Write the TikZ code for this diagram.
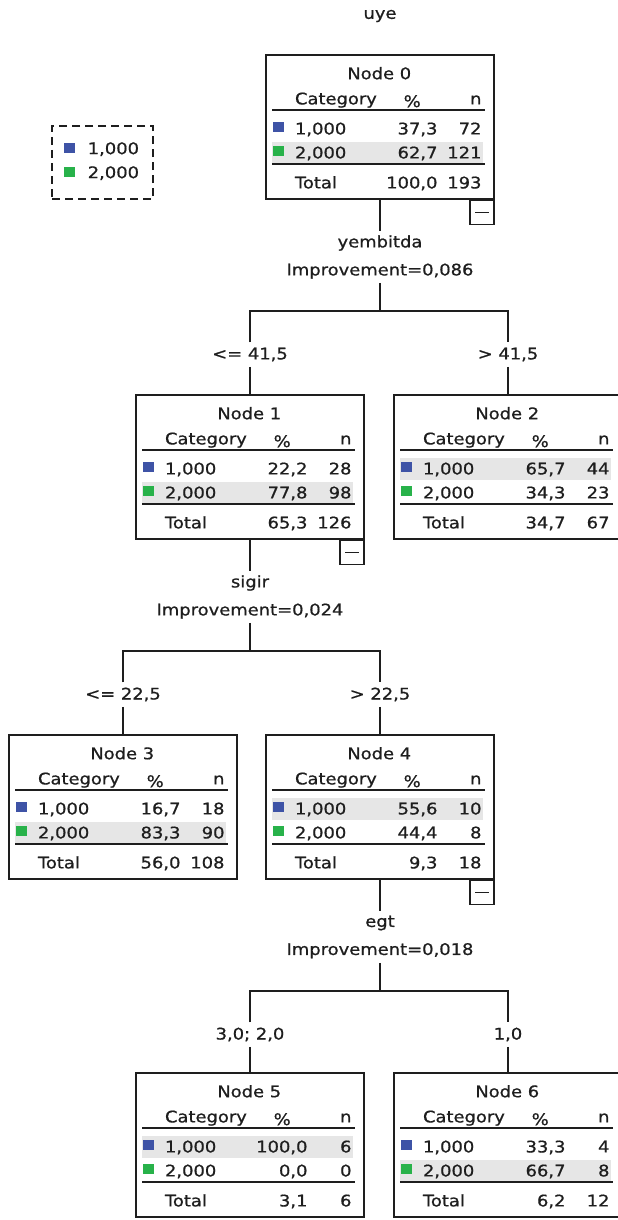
\documentclass[tikz,border=0pt]{standalone}
\usepackage{fontspec}
\newfontfamily\spssfont[FakeStretch=1.12,FakeBold=0.8]{DejaVu Sans}
\usetikzlibrary{positioning}

\definecolor{catblue}{RGB}{62,83,166}
\definecolor{catgreen}{RGB}{40,178,74}
\definecolor{rowgray}{RGB}{230,230,230}
\definecolor{inkgray}{RGB}{30,30,30}

% table inside a tree node: name, title, row 1 (%, n), row 2 (%, n), total (%, n), shaded row
\newcommand{\cattable}[9]{%
\fill[rowgray] (7,{40+24*#9}) rectangle (218,{62+24*#9});
\node[cell] (#1-title) at (114,19) {#2};
\node[cell,anchor=mid west] (#1-cat) at (29,48) {Category};
\node[cell] (#1-pct) at (147,47) {\%};
\node[cell,anchor=mid east] (#1-n) at (217,48) {n};
\draw[rule] (7,56) -- (220,56);
\fill[catblue] (8,68) rectangle (19,78);
\node[cell,anchor=mid west] (#1-a) at (29,78) {1,000};
\node[cell,anchor=mid east] (#1-ap) at (173,78) {#3};
\node[cell,anchor=mid east] (#1-an) at (217,78) {#4};
\fill[catgreen] (8,92) rectangle (19,102);
\node[cell,anchor=mid west] (#1-b) at (29,102) {2,000};
\node[cell,anchor=mid east] (#1-bp) at (173,102) {#5};
\node[cell,anchor=mid east] (#1-bn) at (217,102) {#6};
\draw[rule] (7,110) -- (220,110);
\node[cell,anchor=mid west] (#1-t) at (29,132) {Total};
\node[cell,anchor=mid east] (#1-tp) at (173,132) {#7};
\node[cell,anchor=mid east] (#1-tn) at (217,132) {#8};
}

\begin{document}
\begin{tikzpicture}[x=1pt,y=-1pt,line width=1.5pt,draw=inkgray,text=inkgray,
  font=\spssfont\fontsize{16}{28}\selectfont,
  cell/.style={inner sep=0pt},
  rule/.style={line width=1.8pt},
  treebox/.style={draw,minimum width=228,minimum height=144,inner sep=0pt},
  togglebox/.style={draw,fill=white,minimum width=24,minimum height=24,inner sep=0pt},
  split/.style={align=center,minimum height=50,inner sep=0pt},
  branch/.style={minimum height=23,inner sep=0pt},
  wire/.style={line width=1.5pt}]
\clip (0,0) rectangle (618,1220);

% Title and legend
\node[cell] (root) at (380,16) {uye};
\node[draw,dashed,dash pattern=on 8pt off 5pt,minimum width=101,minimum height=73,inner sep=0pt] (legend) at (102.5,162.5) {};
\fill[catblue] (64,143) rectangle (75,153);
\node[cell,anchor=mid west] (leg1) at (87,152) {1,000};
\fill[catgreen] (64,167) rectangle (75,177);
\node[cell,anchor=mid west] (leg2) at (87,176) {2,000};

% Node 0
\node[treebox] (n0) at (380,127) {};
\begin{scope}[shift={(n0.north west)}]
\cattable{n0}{Node 0}{37,3}{72}{62,7}{121}{100,0}{193}{2}
\end{scope}
\node[togglebox,anchor=north east] (t0) at (n0.south east) {};
\draw ([xshift=-7pt]t0.center) -- ([xshift=7pt]t0.center);
\node[split] (s0) at (380,257) {yembitda\\Improvement=0,086};
\coordinate (h0) at (380,311);
\node[branch] (b1) at (250,354.5) {<= 41,5};
\node[branch] (b2) at (508,354.5) {> 41,5};
\draw[wire] (n0.south) -- (s0.north);
\draw[wire] (s0.south) -- (h0);
\draw[wire] (b1.north) |- (h0) -| (b2.north);

% Node 1
\node[treebox] (n1) at (250,467) {};
\begin{scope}[shift={(n1.north west)}]
\cattable{n1}{Node 1}{22,2}{28}{77,8}{98}{65,3}{126}{2}
\end{scope}
\node[togglebox,anchor=north east] (t1) at (n1.south east) {};
\draw ([xshift=-7pt]t1.center) -- ([xshift=7pt]t1.center);
\draw[wire] (b1.south) -- (n1.north);

% Node 2
\node[treebox] (n2) at (508,467) {};
\begin{scope}[shift={(n2.north west)}]
\cattable{n2}{Node 2}{65,7}{44}{34,3}{23}{34,7}{67}{1}
\end{scope}
\draw[wire] (b2.south) -- (n2.north);

% split of Node 1
\node[split] (s1) at (250,597) {sigir\\Improvement=0,024};
\coordinate (h1) at (250,651);
\node[branch] (b3) at (123,694.5) {<= 22,5};
\node[branch] (b4) at (380,694.5) {> 22,5};
\draw[wire] (n1.south) -- (s1.north);
\draw[wire] (s1.south) -- (h1);
\draw[wire] (b3.north) |- (h1) -| (b4.north);

% Node 3
\node[treebox] (n3) at (123,807) {};
\begin{scope}[shift={(n3.north west)}]
\cattable{n3}{Node 3}{16,7}{18}{83,3}{90}{56,0}{108}{2}
\end{scope}
\draw[wire] (b3.south) -- (n3.north);

% Node 4
\node[treebox] (n4) at (380,807) {};
\begin{scope}[shift={(n4.north west)}]
\cattable{n4}{Node 4}{55,6}{10}{44,4}{8}{9,3}{18}{1}
\end{scope}
\node[togglebox,anchor=north east] (t4) at (n4.south east) {};
\draw ([xshift=-7pt]t4.center) -- ([xshift=7pt]t4.center);
\draw[wire] (b4.south) -- (n4.north);

% split of Node 4
\node[split] (s4) at (380,937) {egt\\Improvement=0,018};
\coordinate (h4) at (380,991);
\node[branch] (b5) at (250,1034.5) {3,0; 2,0};
\node[branch] (b6) at (508,1034.5) {1,0};
\draw[wire] (n4.south) -- (s4.north);
\draw[wire] (s4.south) -- (h4);
\draw[wire] (b5.north) |- (h4) -| (b6.north);

% Node 5
\node[treebox] (n5) at (250,1145) {};
\begin{scope}[shift={(n5.north west)}]
\cattable{n5}{Node 5}{100,0}{6}{0,0}{0}{3,1}{6}{1}
\end{scope}
\draw[wire] (b5.south) -- (n5.north);

% Node 6
\node[treebox] (n6) at (508,1145) {};
\begin{scope}[shift={(n6.north west)}]
\cattable{n6}{Node 6}{33,3}{4}{66,7}{8}{6,2}{12}{2}
\end{scope}
\draw[wire] (b6.south) -- (n6.north);
\end{tikzpicture}
\end{document}
